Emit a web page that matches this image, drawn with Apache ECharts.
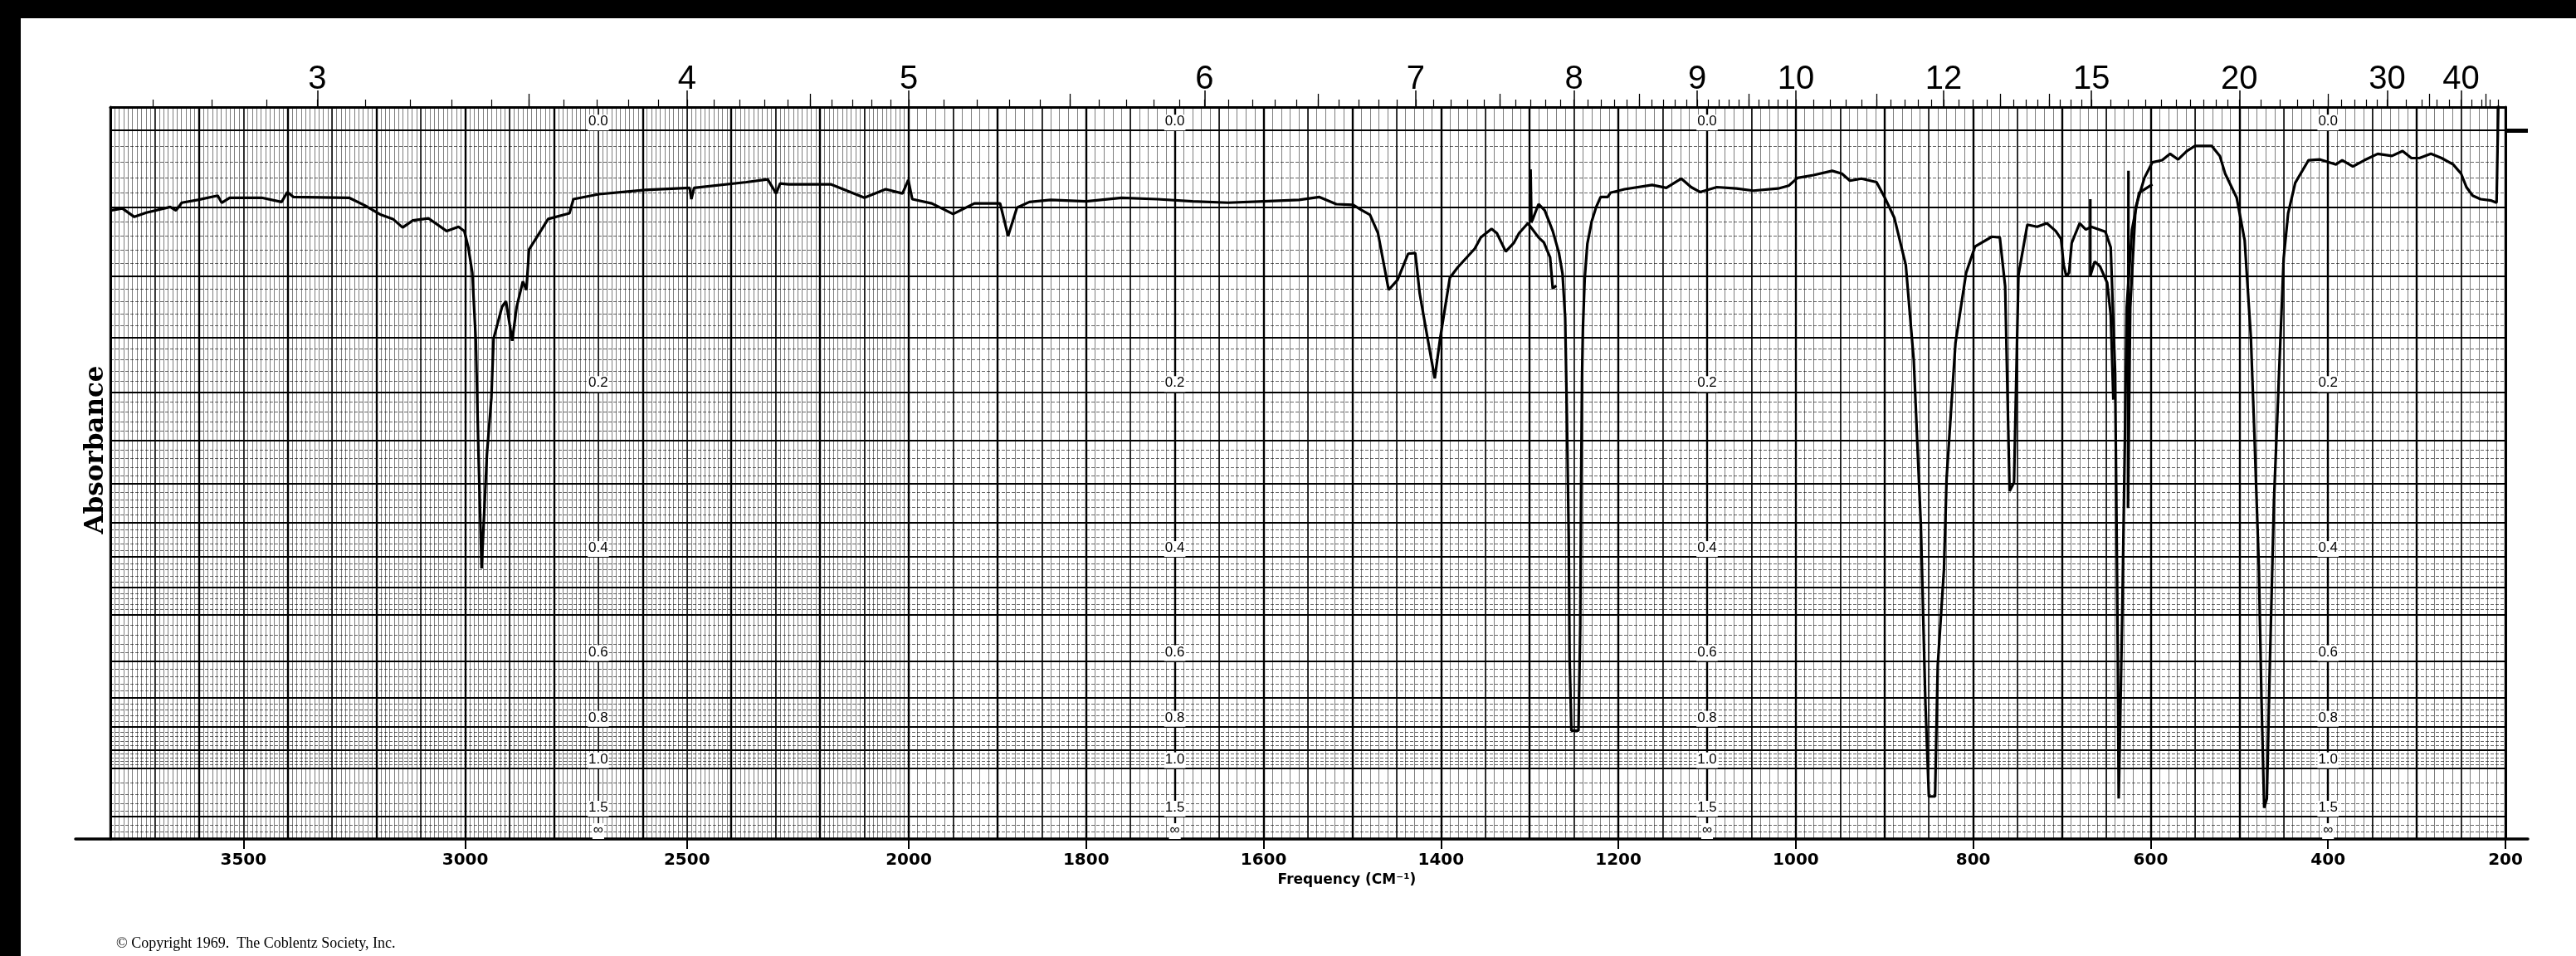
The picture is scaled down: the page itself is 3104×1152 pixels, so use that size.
<!DOCTYPE html>
<html>
<head>
<meta charset="utf-8">
<title>IR spectrum</title>
<script src="https://cdn.jsdelivr.net/npm/echarts@6/dist/echarts.min.js"></script>
<style>
  html, body { margin: 0; padding: 0; background: #000; overflow: hidden; }
  #main { position: absolute; left: 25px; top: 22px; width: 3079px; height: 1130px; background: #fff; }
</style>
</head>
<body>
<div id="main"></div>
<script>
// bottom axis labels (cm-1)
var freqLabels = [3500, 3000, 2500, 2000, 1800, 1600, 1400, 1200, 1000, 800, 600, 400, 200];
// top axis labels (microns)
var micronLabels = [3, 4, 5, 6, 7, 8, 9, 10, 12, 15, 20, 30, 40];
var micronHalf = [3.5, 4.5, 5.5, 6.5, 7.5, 8.5, 9.5, 11, 13, 14, 25, 35, 45];
// absorbance scale printed inside the chart
var absText = ['0.0', '0.2', '0.4', '0.6', '0.8', '1.0', '1.5', '∞'];
var absValue = [0, 0.2, 0.4, 0.6, 0.8, 1.0, 1.5, Infinity];
var absColumns = [2700, 1700, 1100, 400];
var absMajor = [0, 0.05, 0.1, 0.15, 0.2, 0.25, 0.3, 0.35, 0.4, 0.45, 0.5, 0.6, 0.7, 0.8, 0.9, 1.0, 1.5];

// spectrum traces: [wavenumber cm-1, transmittance]
var traceA = [[3800,.887],[3773,.890],[3746,.878],[3719,.884],[3665,.892],[3652,.887],[3639,.898],[3603,.902],
  [3558,.908],[3549,.898],[3531,.905],[3459,.905],[3414,.899],[3401,.913],[3387,.906],[3262,.905],[3226,.894],
  [3190,.881],[3163,.875],[3141,.863],[3118,.873],[3083,.876],[3042,.858],[3015,.864],[3002,.858],[2993,.835],
  [2984,.799],[2976,.703],[2970,.543],[2963,.382],[2951,.543],[2941,.622],[2936,.706],[2917,.751],[2908,.759],
  [2894,.703],[2884,.751],[2870,.787],[2862,.775],[2856,.832],[2841,.847],[2813,.875],[2765,.883],[2756,.903],
  [2699,.910],[2594,.916],[2494,.919],[2490,.903],[2484,.919],[2366,.927],[2318,.931],[2299,.911],[2290,.925],
  [2271,.924],[2176,.924],[2100,.905],[2052,.917],[2014,.911],[2001,.930],[1996,.903],[1974,.897],[1950,.882],
  [1926,.897],[1897,.897],[1888,.851],[1878,.891],[1864,.899],[1840,.902],[1800,.900],[1760,.905],[1720,.903],
  [1680,.900],[1640,.898],[1600,.900],[1560,.902],[1537,.906],[1518,.896],[1499,.895],[1490,.888],[1480,.881],
  [1471,.855],[1459,.775],[1449,.789],[1437,.826],[1429,.827],[1424,.770],[1415,.706],[1407,.650],[1401,.706],
  [1390,.792],[1381,.807],[1362,.833],[1355,.849],[1343,.861],[1337,.855],[1327,.829],[1318,.841],[1312,.855],
  [1302,.869],[1290,.849],[1284,.842],[1277,.821],[1274,.777],[1270,.781]];
var traceB = [[1299,.945],[1298,.870],[1290,.896],[1283,.887],[1274,.858],[1267,.827],[1263,.798],[1260,.736],
  [1258,.593],[1256,.427],[1255,.255],[1253,.153],[1245,.153],[1243,.300],[1242,.500],[1241,.650],[1240,.720],
  [1238,.790],[1235,.840],[1230,.872],[1225,.892],[1220,.906],[1212,.906],[1209,.912],[1193,.917],[1162,.923],
  [1146,.919],[1129,.932],[1118,.920],[1108,.913],[1089,.920],[1067,.918],[1048,.915],[1020,.918],[1008,.922],
  [998,.933],[980,.937],[959,.943],[948,.939],[939,.929],[926,.932],[909,.927],[900,.906],[889,.877],[876,.810],
  [867,.675],[859,.442],[854,.196],[850,.060],[843,.060],[840,.245],[833,.380],[830,.509],[820,.700],[808,.799],
  [798,.836],[779,.850],[770,.849],[764,.780],[759,.491],[754,.503],[749,.796],[739,.867],[728,.864],[717,.869],
  [707,.858],[701,.847],[698,.810],[695,.794],[692,.799],[689,.841],[680,.869],[673,.860],[667,.864],[651,.857],
  [645,.835],[640,.657],[637,.257],[636,.057],[632,.318],[629,.565],[627,.750],[621,.860],[613,.912],[598,.924]];
var traceC = [[668,.903],[668,.795],[663,.815],[657,.808],[649,.785],[645,.740],[642,.620]];
var traceD = [[625,.943],[625.5,.467],[623,.750],[617,.891],[607,.933],[598,.955],[587,.958],[578,.967],[569,.959],
  [559,.971],[550,.978],[531,.978],[522,.964],[516,.939],[503,.905],[494,.845],[487,.708],[483,.571],[478,.384],
  [475,.195],[472,.044],[469,.057],[466,.226],[461,.476],[456,.633],[450,.820],[445,.883],[437,.926],[422,.958],
  [409,.959],[391,.952],[384,.958],[372,.949],[359,.958],[344,.967],[328,.964],[316,.971],[306,.961],[297,.961],
  [284,.967],[272,.961],[259,.952],[250,.939],[244,.920],[237,.908],[228,.903],[216,.901],[210,.898],[208,1.04]];

// chart paper: 2000-3800 at half the scale of 200-2000
function toU(v) { return v >= 2000 ? (3800 - v) / 2 : 900 + (2000 - v); }
function fromU(u) { return u <= 900 ? 3800 - 2 * u : 2000 - (u - 900); }
function absToT(a) { return a === Infinity ? 0 : Math.pow(10, -a); }

var TMAX = 1.033;
var GRID_LEFT = 108, GRID_RIGHT = 85;
var GRID_W = 3079 - GRID_LEFT - GRID_RIGHT;

// fine grid positions
var thinU = [];
for (var u = 0; u < 900; u += 5) thinU.push(u);
for (var u2 = 900; u2 <= 2700; u2 += 10) thinU.push(u2);
var absMinor = [];
for (var i = 1; i < 50; i++) absMinor.push(i / 100);
for (var j = 26; j < 50; j++) absMinor.push(j / 50);
for (var k = 11; k < 15; k++) absMinor.push(k / 10);
absMinor.push(1.7, 2.0);
var micronTicks = [];
function addTicks(a, b, step) {
  for (var m = a; m < b - 1e-9; m += step) micronTicks.push(+m.toFixed(3));
}
addTicks(2.7, 10, 0.1); addTicks(10, 12, 0.2); addTicks(12, 15, 0.25);
addTicks(15, 20, 0.5); addTicks(20, 30, 1); addTicks(30, 50, 2);

var off = {show: false};
var noLine = {show: false, onZero: false};
function line(w) { return {show: true, onZero: false, lineStyle: {color: '#000', width: w}}; }
function xBase(extra) {
  return Object.assign({type: 'value', gridIndex: 0, position: 'bottom', min: 0, max: 2700,
    axisLine: noLine, axisTick: off, axisLabel: off, splitLine: off}, extra);
}
function yBase(extra) {
  return Object.assign({type: 'value', gridIndex: 0, position: 'left', min: 0, max: TMAX,
    axisLine: noLine, axisTick: off, axisLabel: off, splitLine: off}, extra);
}
function microU(m) { return toU(10000 / m); }

var xAxes = [
  xBase({
    axisTick: {show: true, customValues: freqLabels.map(toU), length: 12, lineStyle: {color: '#000', width: 2}},
    axisLabel: {show: true, customValues: freqLabels.map(toU), margin: 16,
      formatter: function (v) { return String(Math.round(fromU(v))); },
      color: '#000', fontFamily: 'DejaVu Sans', fontWeight: 'bold', fontSize: 20},
    name: 'Frequency (CM⁻¹)', nameLocation: 'middle', nameGap: 38,
    nameTextStyle: {color: '#000', fontFamily: 'DejaVu Sans', fontWeight: 'bold', fontSize: 17, padding: [0, 0, 0, 94]}
  }),
  xBase({interval: 100, splitLine: {show: true, lineStyle: {color: '#000', width: 2.4}}}),
  xBase({interval: 50, splitLine: {show: true, lineStyle: {color: '#000', width: 1.5}}}),
  xBase({axisTick: {show: false, customValues: thinU},
    splitLine: {show: true, lineStyle: {color: '#000', width: 1, opacity: 0.5}}}),
  xBase({position: 'top',
    axisLine: line(3),
    axisTick: {show: true, customValues: micronLabels.map(microU), length: 20, lineStyle: {color: '#000', width: 1.5}},
    axisLabel: {show: true, customValues: micronLabels.map(microU), margin: 13,
      formatter: function (v) { return String(Math.round(10000 / fromU(v))); },
      color: '#000', fontFamily: 'Liberation Sans', fontSize: 40}
  }),
  xBase({position: 'top',
    axisTick: {show: true, customValues: micronHalf.map(microU), length: 16, lineStyle: {color: '#000', width: 1.3}}}),
  xBase({position: 'top',
    axisTick: {show: true, customValues: micronTicks.map(microU), length: 9, lineStyle: {color: '#000', width: 1.2}}}),
  {type: 'value', gridIndex: 1, position: 'bottom', min: 0, max: 1,
    axisLine: line(3.5), axisTick: off, axisLabel: off, splitLine: off}
];

function absLabel(t) {
  for (var i = 0; i < absValue.length; i++) {
    if (Math.abs(absToT(absValue[i]) - t) < 1e-7) return absText[i];
  }
  return '';
}

var yAxes = [
  yBase({
    axisLine: line(3),
    name: 'Absorbance', nameLocation: 'middle', nameRotate: 90, nameGap: 2,
    nameTextStyle: {color: '#000', fontFamily: 'DejaVu Serif', fontWeight: 'bold', fontSize: 31, padding: [0, 0, 0, 56]}
  }),
  yBase({axisTick: {show: false, customValues: absMajor.map(absToT)},
    splitLine: {show: true, lineStyle: {color: '#000', width: 2.2}}}),
  yBase({axisTick: {show: false, customValues: absMinor.map(absToT)},
    splitLine: {show: true, lineStyle: {color: '#000', width: 1, opacity: 0.6, type: [4, 2]}}}),
  yBase({position: 'right',
    axisLine: line(3),
    axisTick: {show: true, customValues: [1], length: 27, lineStyle: {color: '#000', width: 5}}})
];
absColumns.forEach(function (wn) {
  yAxes.push(yBase({
    offset: -toU(wn) * GRID_W / 2700,
    axisLabel: {show: true, customValues: absValue.map(absToT), formatter: absLabel,
      align: 'center', verticalAlign: 'bottom', margin: 0, padding: [0, 1, 2, 1],
      backgroundColor: '#fff', color: '#000', fontFamily: 'Liberation Sans', fontSize: 17}
  }));
});
yAxes.push({type: 'value', gridIndex: 1, min: 0, max: 1, show: false});

var traces = [traceA, traceB, traceC, traceD];

var chart = echarts.init(document.getElementById('main'));
chart.setOption({
  animation: false,
  backgroundColor: '#fff',
  title: {
    text: '© Copyright 1969.  The Coblentz Society, Inc.',
    left: 110, top: 1101,
    textStyle: {color: '#000', fontFamily: 'Liberation Serif', fontWeight: 'normal', fontSize: 18}
  },
  grid: [
    {left: GRID_LEFT, right: GRID_RIGHT, top: 107, bottom: 141},
    {left: 66, right: 58, top: 107, bottom: 141}
  ],
  xAxis: xAxes,
  yAxis: yAxes,
  series: traces.map(function (tr) {
    return {
      type: 'line', xAxisIndex: 0, yAxisIndex: 0, silent: true, z: 5,
      showSymbol: false, symbol: 'none',
      lineStyle: {color: '#000', width: 3.2},
      data: tr.map(function (p) { return [toU(p[0]), p[1]]; })
    };
  })
});
</script>
</body>
</html>
